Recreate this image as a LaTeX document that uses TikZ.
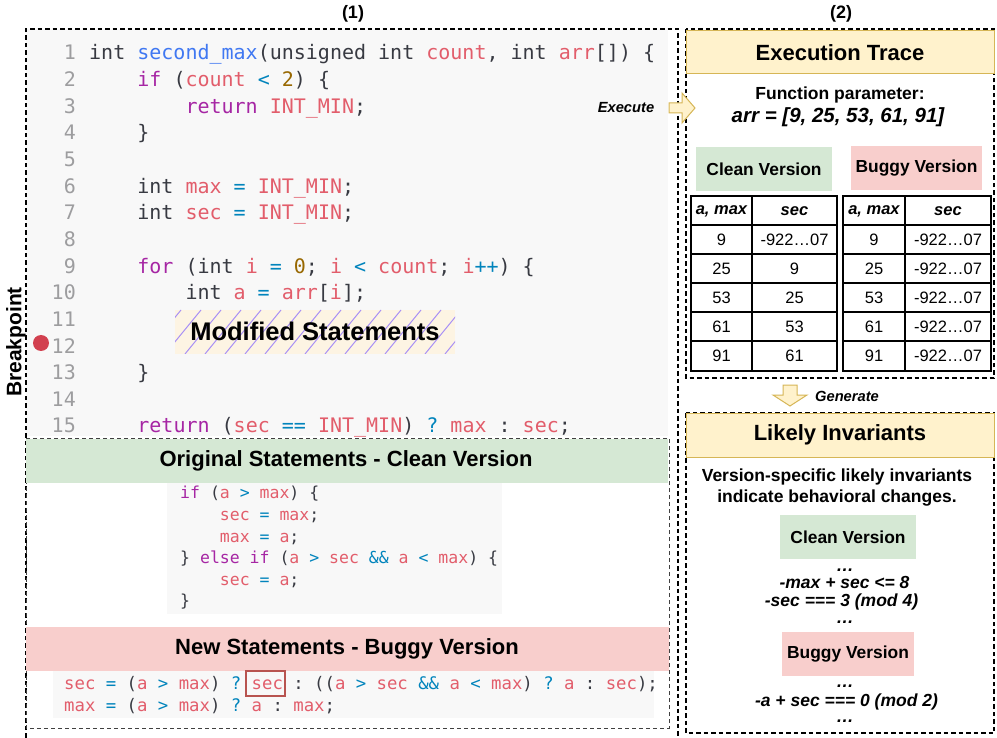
\documentclass[tikz,border=0pt]{standalone}
\usepackage{fontspec}
\setmainfont{Liberation Sans}
\newfontfamily\codefont{DejaVu Sans Mono}
\usetikzlibrary{calc}
\definecolor{ckwc}{HTML}{A626A4}
\definecolor{cvrc}{HTML}{E25D6B}
\definecolor{cfnc}{HTML}{4078F2}
\definecolor{copc}{HTML}{0184BC}
\definecolor{cnmc}{HTML}{986801}
\definecolor{cplc}{HTML}{383A42}
\definecolor{clnc}{HTML}{9D9D9F}
\definecolor{codebg}{HTML}{F8F8F8}
\definecolor{gfill}{HTML}{D5E8D4}
\definecolor{pfill}{HTML}{F8CECC}
\definecolor{yfill}{HTML}{FFF2CC}
\definecolor{yline}{HTML}{D6B656}
\definecolor{redbox}{HTML}{B85450}
\definecolor{bpred}{HTML}{D2404F}
\definecolor{cream}{HTML}{FDF4E3}
\definecolor{hatchc}{HTML}{A890F5}
\newcommand\ckw[1]{\textcolor{ckwc}{#1}}
\newcommand\cvr[1]{\textcolor{cvrc}{#1}}
\newcommand\cfn[1]{\textcolor{cfnc}{#1}}
\newcommand\cop[1]{\textcolor{copc}{#1}}
\newcommand\cnm[1]{\textcolor{cnmc}{#1}}
\newcommand\minval{-922\ldots07}
\tikzset{
  codeln/.style={anchor=base west, inner sep=0pt, font=\codefont\fontsize{20}{24}\selectfont\frenchspacing, text=cplc},
  lnum/.style={anchor=base east, inner sep=0pt, font=\codefont\fontsize{20}{24}\selectfont, text=clnc},
  ccode/.style={anchor=base west, inner sep=0pt, font=\codefont\fontsize{16.5}{20}\selectfont\frenchspacing, text=cplc},
  bcode/.style={anchor=base west, inner sep=0pt, font=\codefont\fontsize{17.3}{21}\selectfont\frenchspacing, text=cplc},
  dbox/.style={draw=black, line width=1.3pt, dash pattern=on 4.5pt off 3pt},
  dboxthin/.style={draw=black!75, line width=0.9pt, dash pattern=on 4pt off 3pt},
  hdr/.style={draw=yline, fill=yfill, line width=1pt, minimum width=308pt, minimum height=43pt, inner sep=0pt, font=\fontsize{22}{26}\selectfont\bfseries},
  band/.style={font=\fontsize{22}{26}\selectfont\bfseries, inner sep=0pt},
  verbox/.style={minimum height=44pt, inner sep=0pt, font=\fontsize{17.4}{20}\selectfont\bfseries},
  bt/.style={font=\fontsize{17.5}{21}\selectfont\bfseries, inner sep=0pt},
  bit/.style={font=\fontsize{17.5}{21}\selectfont\bfseries\itshape, inner sep=0pt, text height=12.5pt, text depth=3pt},
  smalllbl/.style={font=\fontsize{14.7}{18}\selectfont\bfseries\itshape, inner sep=0pt},
  tbl/.style={draw=black, line width=1.5pt},
  tv/.style={font=\fontsize{16.5}{20}\selectfont, inner sep=0pt},
  th/.style={font=\fontsize{16.5}{20}\selectfont\bfseries\itshape, inner sep=0pt},
  blockarrow/.style={draw=yline, fill=yfill, line width=1pt, line join=miter},
  hatch/.style={draw=hatchc, line width=1pt},
  title/.style={font=\fontsize{18}{22}\selectfont\bfseries, inner sep=0pt}
}
\begin{document}
\begin{tikzpicture}[x=1pt,y=-1pt]
\useasboundingbox (0,0) rectangle (997,738);
\fill[white] (0,0) rectangle (997,738);

% titles
\node[title] (t1) at (353,14) {(1)};
\node[title] (t2) at (841,14) {(2)};

% ---------- panel 1 ----------
\fill[codebg] (26,29) rectangle (668,436);
\draw[dbox] (26,745) -- (26,29) -- (678,29) -- (678,745);

% line numbers
\foreach \n in {1,2,3,4,5,6,7,8,9,10,11,12,13,14,15} {
  \node[lnum] (ln\n) at (76,{60+(\n-1)*26.64}) {\n};
}
% code
\node[codeln] (c1) at (89,60) {int \cfn{second\_max}(unsigned int \cvr{count}, int \cvr{arr}[]) \{};
\node[codeln] (c2) at (137.2,86.64) {\ckw{if} (\cvr{count} \cop{<} \cnm{2}) \{};
\node[codeln] (c3) at (185.3,113.28) {\ckw{return} \cvr{INT\_MIN};};
\node[codeln] (c4) at (137.2,139.92) {\}};
\node[codeln] (c6) at (137.2,193.2) {int \cvr{max} \cop{=} \cvr{INT\_MIN};};
\node[codeln] (c7) at (137.2,219.84) {int \cvr{sec} \cop{=} \cvr{INT\_MIN};};
\node[codeln] (c9) at (137.2,273.12) {\ckw{for} (int \cvr{i} \cop{=} \cnm{0}; \cvr{i} \cop{<} \cvr{count}; \cvr{i}\cop{++}) \{};
\node[codeln] (c10) at (185.3,299.76) {int \cvr{a} \cop{=} \cvr{arr}[\cvr{i}];};
\node[codeln] (c13) at (137.2,379.68) {\}};
\node[codeln] (c15) at (137.2,432.96) {\ckw{return} (\cvr{sec} \cop{==} \cvr{INT\_MIN}) \cop{?} \cvr{max} : \cvr{sec};};

% breakpoint
\fill[bpred] (41,343) circle (8pt);
\node[rotate=90, font=\fontsize{21}{24}\selectfont\bfseries, inner sep=0pt] (bp) at (16,342) {Breakpoint};

% modified statements (hatched)
\fill[cream] (175,310) rectangle (455,354);
\begin{scope}
  \clip (175,310) rectangle (455,354);
  \foreach \i in {0,1,2,3,4,5,6,7,8,9,10,11,12,13,14,15,16,17} {
    \draw[hatch] ({145+\i*20},354) -- ++(36,-44);
  }
\end{scope}
\node[font=\fontsize{25.5}{30}\selectfont\bfseries, inner sep=0pt] (mod) at (315,331) {Modified Statements};

% lower box
\draw[dboxthin] (26,438) rectangle (669,728);
\fill[gfill] (26,439) rectangle (668,483);
\node[band] (orig) at (346,461) {Original Statements - Clean Version};
\fill[codebg] (167,483) rectangle (502,614);
\node[ccode] (k0) at (180,498.8) {\ckw{if} (\cvr{a} \cop{>} \cvr{max}) \{};
\node[ccode] (k1) at (219.7,520.4) {\cvr{sec} \cop{=} \cvr{max};};
\node[ccode] (k2) at (219.7,542) {\cvr{max} \cop{=} \cvr{a};};
\node[ccode] (k3) at (180,563.6) {\} \ckw{else} \ckw{if} (\cvr{a} \cop{>} \cvr{sec} \cop{\&\&} \cvr{a} \cop{<} \cvr{max}) \{};
\node[ccode] (k4) at (219.7,585.2) {\cvr{sec} \cop{=} \cvr{a};};
\node[ccode] (k5) at (180,606.8) {\}};

\fill[pfill] (26,627) rectangle (669,671);
\node[band] (newst) at (347,649) {New Statements - Buggy Version};
\fill[codebg] (53,671) rectangle (654,718);
\node[bcode] (b1) at (64,689) {\cvr{sec} \cop{=} (\cvr{a} \cop{>} \cvr{max}) \cop{?} \cvr{sec} : ((\cvr{a} \cop{>} \cvr{sec} \cop{\&\&} \cvr{a} \cop{<} \cvr{max}) \cop{?} \cvr{a} : \cvr{sec});};
\node[bcode] (b2) at (64,711) {\cvr{max} \cop{=} (\cvr{a} \cop{>} \cvr{max}) \cop{?} \cvr{a} : \cvr{max};};
\node[draw=redbox, line width=2.3pt, minimum width=39pt, minimum height=25pt, inner sep=0pt] (secbox) at (265.5,683.5) {};

% ---------- panel 2 ----------
\draw[dbox] (686,29) rectangle (994,378);
\node[hdr] (exh) at (840,52.5) {Execution Trace};

% execute arrow
\draw[blockarrow] (669,103) -- (682,103) -- (682,93) -- (695,108) -- (682,123) -- (682,113) -- (669,113) -- cycle;
\node[smalllbl] (exe) at (626,108) {Execute};

\node[bt] (fp) at (840,95) {Function parameter:};
\node[font=\fontsize{20.5}{24}\selectfont\bfseries\itshape, inner sep=0pt] (arr) at (838,117) {arr = [9, 25, 53, 61, 91]};

\node[verbox, fill=gfill, minimum width=136pt] (cv1) at (764,169) {Clean Version};
\node[verbox, fill=pfill, minimum width=131pt] (bv1) at (916.5,168.5) {Buggy Version};

% tables
\foreach \xa/\xb/\xc in {691/752/837, 843/905/991} {
  \draw[tbl] (\xa,196) rectangle (\xc,371);
  \draw[tbl] (\xb,196) -- (\xb,371);
  \foreach \yy in {225,254,283,312,341} {
    \draw[tbl] (\xa,\yy) -- (\xc,\yy);
  }
}
\node[th] (lh1) at (721.5,211) {a, max};
\node[th] (lh2) at (794.5,211) {sec};
\node[th] (rh1) at (874,211) {a, max};
\node[th] (rh2) at (948,211) {sec};
\foreach \r/\yy/\a/\s in {1/240/9/\minval, 2/269/25/9, 3/298/53/25, 4/327/61/53, 5/356/91/61} {
  \node[tv] (la\r) at (721.5,\yy) {\a};
  \node[tv] (ls\r) at (794.5,\yy) {\s};
  \node[tv] (ra\r) at (874,\yy) {\a};
  \node[tv] (rs\r) at (948,\yy) {\minval};
}

% generate arrow
\draw[blockarrow] (783,385) -- (797,385) -- (797,395) -- (807,395) -- (790,406) -- (773,395) -- (783,395) -- cycle;
\node[smalllbl] (gen) at (847,396) {Generate};

% likely invariants
\draw[dbox] (686,413) rectangle (994,733);
\node[hdr, minimum height=44pt] (lih) at (840,435) {Likely Invariants};
\node[bt] (vs1) at (837,477) {Version-specific likely invariants};
\node[bt] (vs2) at (837,498) {indicate behavioral changes.};
\node[verbox, fill=gfill, minimum width=136pt] (cv2) at (848,537) {Clean Version};
\node[bit] (d1) at (845,567) {\ldots};
\node[bit] (i1) at (844.5,584) {-max + sec <= 8};
\node[bit] (i2) at (841.5,602) {-sec === 3 (mod 4)};
\node[bit] (d2) at (845,619) {\ldots};
\node[verbox, fill=pfill, minimum width=132pt] (bv2) at (848,654) {Buggy Version};
\node[bit] (d3) at (845,683) {\ldots};
\node[bit] (i3) at (846.5,702) {-a + sec === 0 (mod 2)};
\node[bit] (d4) at (845,718) {\ldots};
\end{tikzpicture}
\end{document}
